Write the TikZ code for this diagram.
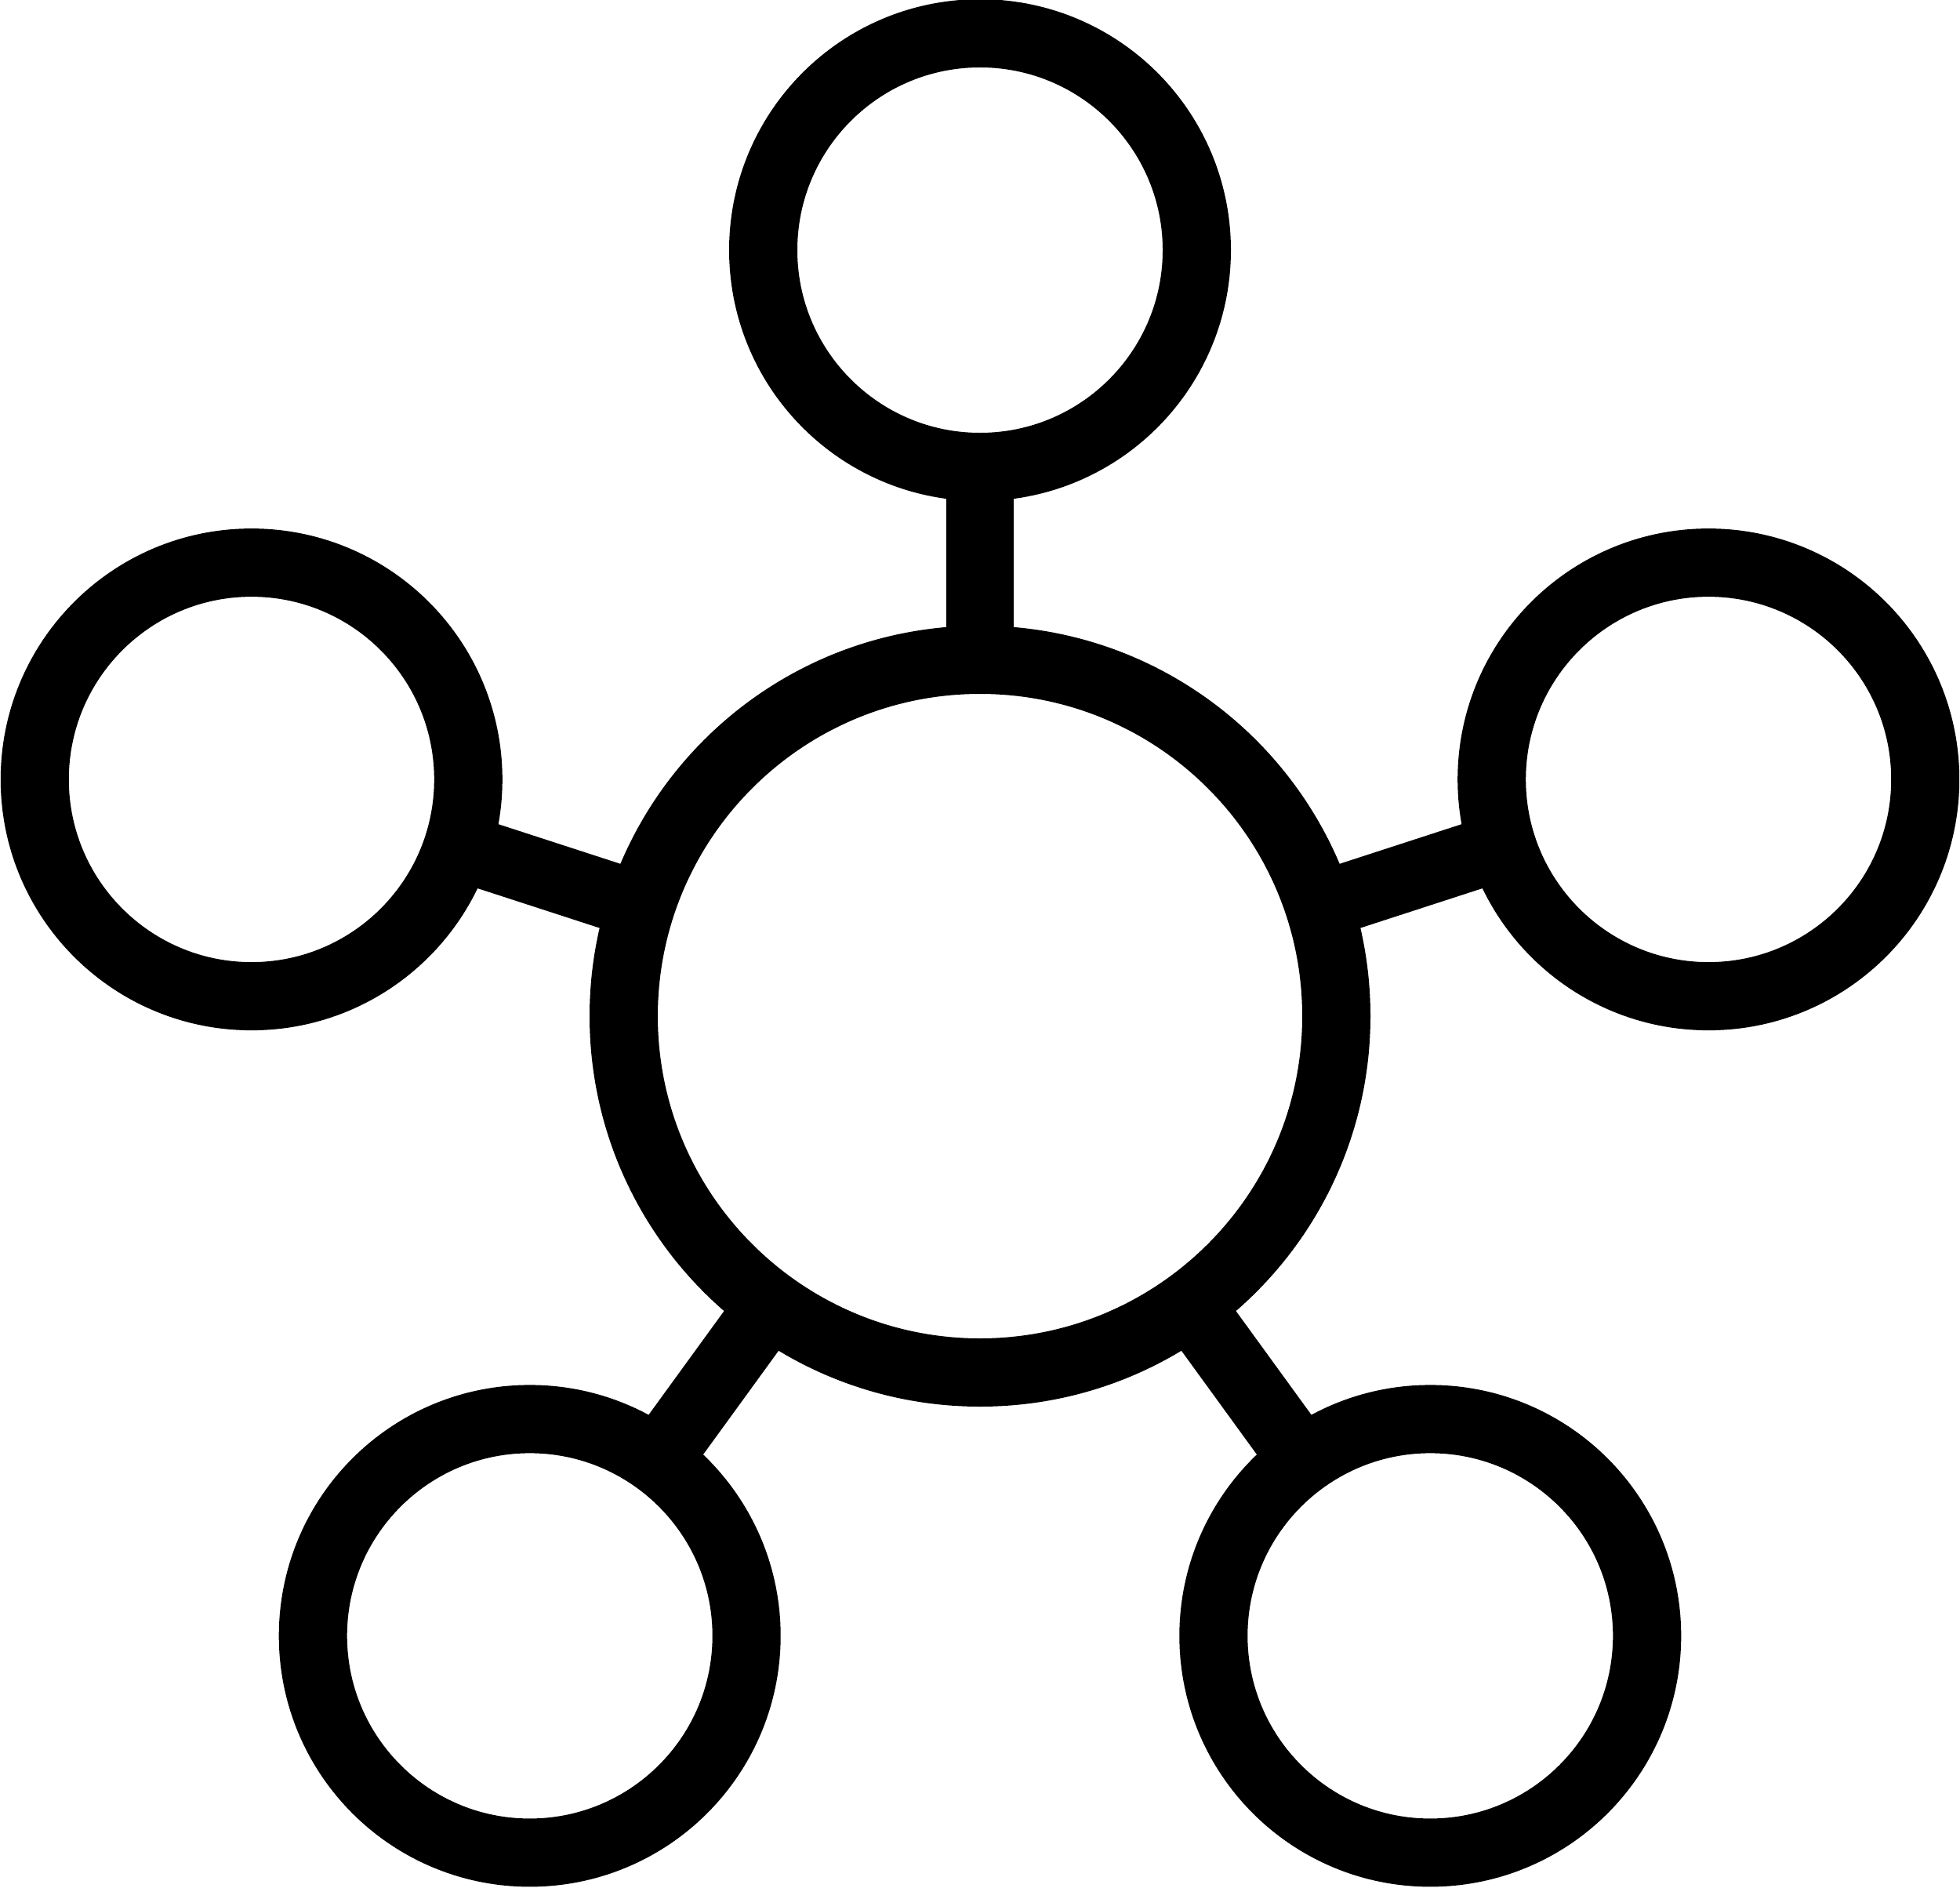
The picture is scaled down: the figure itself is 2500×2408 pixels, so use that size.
\documentclass[tikz,border=0pt]{standalone}
\usetikzlibrary{backgrounds}
\begin{document}
\begin{tikzpicture}[x=1pt,y=-1pt,
  ring/.style={circle,draw=black,line width=87pt,fill=white,inner sep=0pt,outer sep=0pt},
  small/.style={ring,minimum size=553pt},
  big/.style={ring,minimum size=909pt},
  link/.style={line width=86pt,black}]
\useasboundingbox (0,0) rectangle (2500,2408);
\node[big] (c) at (1250,1296) {};
\node[small] (t) at (1250,319) {};
\node[small] (l) at (320.8,994.1) {};
\node[small] (r) at (2179.2,994.1) {};
\node[small] (bl) at (675.7,2086.4) {};
\node[small] (br) at (1824.3,2086.4) {};
\begin{scope}[on background layer]
\draw[link] (c.center) -- (t.center);
\draw[link] (c.center) -- (l.center);
\draw[link] (c.center) -- (r.center);
\draw[link] (c.center) -- (bl.center);
\draw[link] (c.center) -- (br.center);
\end{scope}
\end{tikzpicture}
\end{document}
